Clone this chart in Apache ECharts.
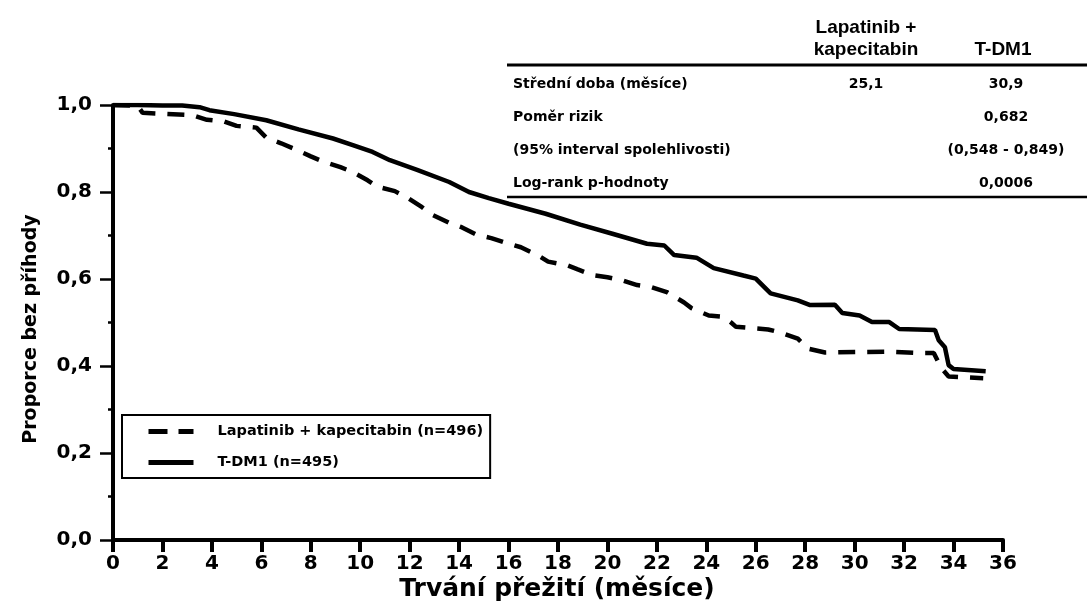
<!DOCTYPE html>
<html>
<head>
<meta charset="utf-8">
<script src="https://cdn.jsdelivr.net/npm/echarts@6/dist/echarts.min.js"></script>
<style>
html,body{margin:0;padding:0;background:#fff;}
#chart{width:1087px;height:606px;}
</style>
</head>
<body>
<div id="chart"></div>
<script>
// ---- data ----
const seriesNames = ['Lapatinib + kapecitabin (n=496)', 'T-DM1 (n=495)'];
const xTicks = [0,2,4,6,8,10,12,14,16,18,20,22,24,26,28,30,32,34,36];
const yTickLabels = ['0,0','0,2','0,4','0,6','0,8','1,0'];
// time (months), proportion event-free
const lapatinib = [
  [0,1.0],[1.0,0.998],[1.2,0.982],[3.2,0.977],[3.8,0.966],[4.5,0.962],[5.0,0.952],[5.8,0.948],
  [6.2,0.925],[6.8,0.912],[7.3,0.900],[8.0,0.882],[8.5,0.870],[9.2,0.857],[9.7,0.846],[10.3,0.827],
  [10.7,0.812],[11.4,0.802],[11.9,0.787],[12.5,0.765],[12.9,0.748],[13.6,0.729],[14.1,0.719],[14.7,0.702],
  [15.3,0.694],[15.9,0.683],[16.5,0.673],[17.2,0.654],[17.6,0.640],[18.4,0.631],[18.8,0.622],[19.4,0.609],
  [20.0,0.604],[20.6,0.597],[21.2,0.586],[21.8,0.581],[22.4,0.570],[23.1,0.546],[23.4,0.533],[24.1,0.516],
  [24.7,0.513],[25.0,0.500],[25.2,0.490],[26.5,0.484],[27.0,0.477],[27.7,0.463],[28.1,0.440],[28.8,0.431],
  [30.0,0.432],[31.4,0.433],[32.6,0.430],[33.2,0.430],[33.5,0.396],[33.8,0.376],[34.5,0.374],[35.2,0.372]
];
const tdm1 = [
  [0,1.0],[1,1.0],[2,0.999],[2.8,0.999],[3.5,0.995],[3.9,0.988],[4.9,0.979],[6.2,0.965],[7.5,0.944],
  [8.9,0.923],[9.7,0.908],[10.5,0.892],[11.2,0.873],[12.3,0.851],[13.6,0.823],[14.4,0.800],[15.2,0.786],
  [16.0,0.773],[17.5,0.750],[18.9,0.725],[20.2,0.704],[21.6,0.681],[22.3,0.677],[22.7,0.655],[23.6,0.649],
  [24.3,0.625],[25.5,0.608],[26.0,0.601],[26.6,0.567],[27.7,0.551],[28.2,0.540],[29.2,0.541],[29.5,0.522],
  [30.2,0.516],[30.7,0.501],[31.4,0.501],[31.8,0.485],[33.25,0.483],[33.4,0.459],[33.65,0.443],[33.8,0.402],
  [34.0,0.393],[35.3,0.388]
];
// summary table
const tableHeaders = ['Lapatinib +', 'kapecitabin', 'T-DM1'];
const tableRowLabels = ['Střední doba (měsíce)', 'Poměr rizik', '(95% interval spolehlivosti)', 'Log-rank p-hodnoty'];
const tableCol1 = ['25,1', '', '', ''];
const tableCol2 = ['30,9', '0,682', '(0,548 - 0,849)', '0,0006'];

const FONT = '"DejaVu Sans", sans-serif';
const HFONT = '"Liberation Sans", Arial, sans-serif';
const chart = echarts.init(document.getElementById('chart'), null, {renderer: 'canvas'});

const tableGraphics = [];
const rowY = [84, 117, 150, 183];
tableGraphics.push({type:'text', style:{x:866, y:28, text: tableHeaders[0], font:'bold 19px ' + HFONT, fill:'#000', align:'center', verticalAlign:'middle'}});
tableGraphics.push({type:'text', style:{x:866, y:50, text: tableHeaders[1], font:'bold 19px ' + HFONT, fill:'#000', align:'center', verticalAlign:'middle'}});
tableGraphics.push({type:'text', style:{x:1003, y:50, text: tableHeaders[2], font:'bold 19px ' + HFONT, fill:'#000', align:'center', verticalAlign:'middle'}});
tableGraphics.push({type:'line', shape:{x1:507, y1:65, x2:1087, y2:65}, style:{stroke:'#000', lineWidth:3}});
tableGraphics.push({type:'line', shape:{x1:507, y1:197, x2:1087, y2:197}, style:{stroke:'#000', lineWidth:2.5}});
tableRowLabels.forEach((lab, i) => {
  tableGraphics.push({type:'text', style:{x:513, y:rowY[i], text: lab, font:'bold 14px ' + FONT, fill:'#000', align:'left', verticalAlign:'middle'}});
  if (tableCol1[i]) tableGraphics.push({type:'text', style:{x:866, y:rowY[i], text: tableCol1[i], font:'bold 14px ' + FONT, fill:'#000', align:'center', verticalAlign:'middle'}});
  if (tableCol2[i]) tableGraphics.push({type:'text', style:{x:1006, y:rowY[i], text: tableCol2[i], font:'bold 14px ' + FONT, fill:'#000', align:'center', verticalAlign:'middle'}});
});

const option = {
  backgroundColor: '#fff',
  animation: false,
  grid: {left: 113, right: 84, top: 105, bottom: 66, containLabel: false},
  legend: {
    orient: 'vertical', left: 122, top: 415,
    data: [
      {name: seriesNames[0], lineStyle: {type: [19, 11], width: 5}},
      {name: seriesNames[1], lineStyle: {width: 5}}
    ],
    itemWidth: 45, itemHeight: 14, itemGap: 16,
    itemStyle: {color: 'rgba(0,0,0,0)', borderColor: 'rgba(0,0,0,0)', borderWidth: 0},
    borderColor: '#000', borderWidth: 2, borderRadius: 0,
    padding: [9, 7, 8, 24],
    textStyle: {fontFamily: FONT, fontWeight: 'bold', fontSize: 14.5, color: '#000', padding: [0,0,0,19]},
    selectedMode: false
  },
  xAxis: {
    type: 'value', min: 0, max: 36, interval: 2,
    axisLine: {show: true, lineStyle: {color: '#000', width: 4}},
    axisTick: {show: true, inside: false, length: 12, lineStyle: {color: '#000', width: 4}},
    axisLabel: {margin: 14, fontFamily: FONT, fontWeight: 'bold', fontSize: 20, color: '#000',
      formatter: v => xTicks.includes(v) ? String(v) : ''},
    splitLine: {show: false}
  },
  yAxis: {
    type: 'value', min: 0, max: 1, interval: 0.2, offset: 3,
    axisLine: {show: true, lineStyle: {color: '#000', width: 4}},
    axisTick: {show: true, inside: false, length: 13, lineStyle: {color: '#000', width: 2.5}},
    minorTick: {show: true, splitNumber: 2, length: 5, lineStyle: {color: '#000', width: 2.5}},
    axisLabel: {margin: 18, fontFamily: FONT, fontWeight: 'bold', fontSize: 20, color: '#000',
      formatter: v => yTickLabels[Math.round(v / 0.2)]},
    splitLine: {show: false}
  },
  graphic: [
    {type:'text', style:{x:557, y:589, text:'Trvání přežití (měsíce)', font:'bold 25px ' + FONT, fill:'#000', align:'center', verticalAlign:'middle'}},
    {type:'text', rotation: Math.PI/2, x:31, y:329, style:{x:0, y:0, text:'Proporce bez příhody', font:'bold 19px ' + FONT, fill:'#000', align:'center', verticalAlign:'middle'}},
    ...tableGraphics
  ],
  series: [
    {name: seriesNames[0], type: 'line', data: lapatinib, symbol: 'none', smooth: false,
     lineStyle: {color: '#000', width: 4.5, type: [17, 12]}, itemStyle: {color: '#000'}, z: 3},
    {name: seriesNames[1], type: 'line', data: tdm1, symbol: 'none', smooth: false,
     lineStyle: {color: '#000', width: 4.5, type: 'solid'}, itemStyle: {color: '#000'}, z: 4}
  ]
};
chart.setOption(option);
</script>
</body>
</html>
